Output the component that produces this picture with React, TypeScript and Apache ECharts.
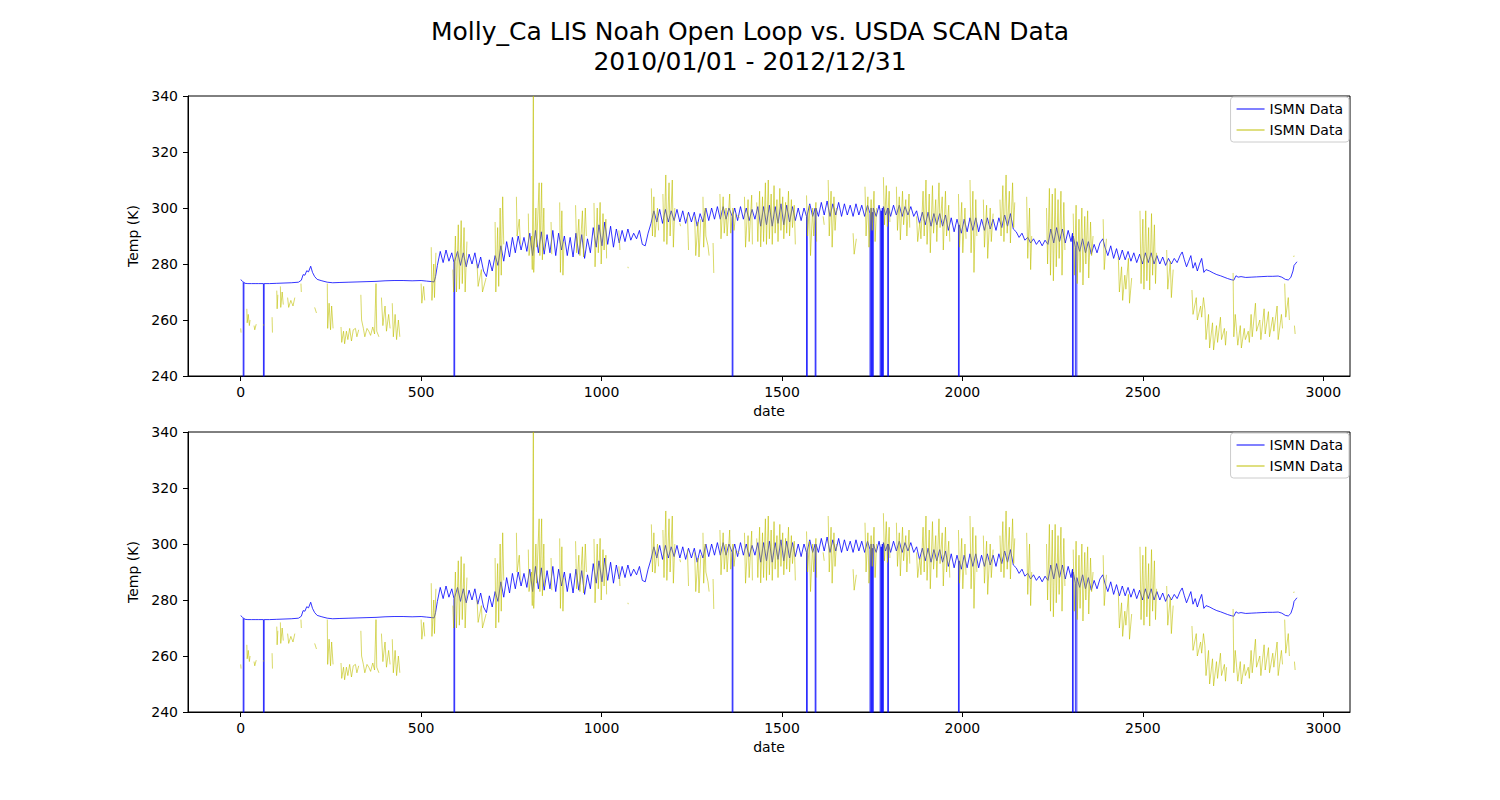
import { useEffect, useRef } from "react";
import * as echarts from "echarts";

// LIS Noah open loop soil temperature (K), [day index, value]; -9999 = missing value flag
const LIS_TEMPS: [number, number][] = [
    [0, 274.4], [4, 274.0], [7, 273.6], [8, -9999], [9, 273.4], [12, 273.1], [20, 273.0], [30, 273.0],
    [40, 273.0], [50, 273.0], [63, 273.0], [64, -9999], [65, 273.0], [80, 273.0], [100, 273.1], [120, 273.2],
    [140, 273.3], [160, 273.5], [168, 274.2], [173, 276.2], [178, 276.0], [183, 277.6], [188, 277.2], [194, 279.2],
    [199, 277.0], [205, 275.5], [212, 274.5], [225, 274.0], [240, 273.5], [255, 273.3], [275, 273.4], [300, 273.5],
    [325, 273.6], [350, 273.7], [375, 273.8], [400, 274.0], [425, 274.1], [450, 274.1], [475, 274.0], [500, 274.1],
    [515, 273.9], [530, 273.7], [536, 273.6], [540, 275.5],
    [545, 279.5], [553, 284.5], [561, 280.5], [569, 285], [577, 281], [585, 284], [591, 280.5], [592, -9999], [593, 281], [601, 284.5],
    [609, 279.5], [617, 284], [625, 279], [633, 283.5], [641, 280], [649, 284],
    [657, 278.5], [665, 282.5], [673, 277.5], [681, 275.5], [689, 281.5], [697, 277.5],
    [705, 283], [713, 279.5], [721, 286.5], [729, 281], [737, 288], [745, 282.5],
    [753, 289.5], [761, 284], [769, 290], [777, 285], [785, 289.5], [793, 284.5],
    [801, 291], [809, 283], [817, 292], [825, 284], [833, 291.5], [841, 283.5], [849, 290.5], [857, 284], [865, 292], [873, 283], [881, 291], [889, 285], [897, 290],
    [905, 283], [913, 289.5], [921, 282.5], [929, 291], [937, 283.5], [945, 290.5], [953, 282], [961, 289], [969, 284],
    [977, 293], [985, 286], [993, 294], [1001, 286.5], [1009, 295], [1017, 287], [1025, 293.5], [1033, 286], [1041, 292.5], [1049, 287.5],
    [1057, 292], [1065, 288], [1073, 292.5], [1081, 288.5], [1089, 291], [1097, 289], [1105, 292], [1113, 287], [1121, 286.5], [1129, 291],
    [1137, 294.5], [1145, 299], [1153, 295], [1161, 299.5], [1169, 294.5], [1177, 299.5], [1185, 295], [1193, 299], [1201, 295.5],
    [1209, 299.5], [1217, 295], [1225, 299], [1233, 294.5], [1241, 298.5], [1249, 295], [1257, 298.5], [1265, 293.5], [1273, 298],
    [1281, 295], [1289, 300], [1297, 295.5], [1305, 300], [1313, 296], [1321, 300.5], [1329, 296], [1337, 300.5], [1345, 296], [1353, 300],
    [1362, 297], [1363, -9999], [1364, 297.5], [1369, 300], [1377, 295.5], [1385, 300.5], [1393, 296], [1401, 300], [1409, 295.5], [1417, 299.5], [1425, 296],
    [1433, 300.5], [1441, 293.5], [1449, 300.5], [1457, 294], [1465, 301], [1473, 293.5], [1481, 300.5], [1489, 294.5], [1497, 301.5],
    [1505, 294], [1513, 301], [1521, 295], [1529, 300.5], [1537, 295.5], [1545, 300], [1553, 295.5], [1561, 300],
    [1568, 297], [1569, -9999], [1570, 297.5], [1577, 301.5], [1585, 297], [1592, 300], [1593, -9999], [1594, 300], [1601, 297],
    [1609, 302], [1617, 297.5], [1625, 302.5], [1633, 297], [1641, 301.5], [1649, 297.5], [1657, 302], [1665, 297], [1673, 301.5],
    [1681, 297.5], [1689, 301], [1697, 297], [1705, 301.5], [1713, 297.5], [1721, 301],
    [1729, 297], [1737, 301], [1744, 298], [1745, -9999], [1747, 300], [1748, -9999], [1750, 298.5], [1751, -9999], [1753, 300],
    [1761, 297], [1769, 301], [1772, 299], [1773, -9999], [1775, 299], [1776, -9999], [1778, 300], [1779, -9999], [1781, 300.5],
    [1787, 297.5], [1793, 300], [1794, -9999], [1795, 300], [1801, 297], [1809, 301], [1817, 297.5], [1825, 301], [1833, 297],
    [1841, 300.5], [1849, 297.5], [1857, 300.5], [1865, 297],
    [1873, 299], [1881, 294.5], [1889, 298.5], [1897, 294], [1905, 298.5], [1913, 293.5], [1921, 298], [1929, 294], [1937, 298], [1945, 293.5], [1953, 297.5],
    [1961, 292], [1969, 296.5], [1977, 291.5], [1985, 296], [1989, 294], [1990, -9999], [1991, 294], [1997, 291], [2005, 296], [2013, 291.5],
    [2021, 296.5], [2029, 292], [2037, 296.5], [2045, 291.5], [2053, 296], [2061, 292], [2069, 296.5], [2077, 292.5], [2085, 296], [2093, 292], [2101, 296.5],
    [2109, 293], [2117, 297.5], [2125, 293.5], [2133, 298], [2141, 292.5],
    [2149, 291.5], [2157, 289.5], [2165, 291], [2173, 288.5], [2181, 289.5], [2189, 287.5], [2197, 289], [2205, 287], [2213, 288.5], [2221, 286.5], [2229, 288.5],
    [2237, 287], [2245, 292.5], [2253, 287.5], [2261, 293], [2269, 288], [2277, 292.5], [2285, 287.5], [2293, 292], [2301, 288],
    [2305, 291], [2306, -9999], [2307, 290], [2313, 286], [2315, -9999], [2317, 288], [2325, 284.5], [2333, 289], [2341, 284], [2349, 288],
    [2357, 283.5], [2365, 287], [2373, 284], [2381, 287.5], [2389, 289], [2395, 286],
    [2403, 283], [2411, 286.5], [2419, 282], [2427, 285.5], [2435, 281.5], [2443, 285], [2451, 281.5], [2459, 284.5], [2467, 281], [2475, 284], [2483, 280.5],
    [2491, 283.5], [2499, 280], [2507, 284], [2515, 280.5], [2523, 284], [2531, 280],
    [2539, 283], [2547, 280], [2555, 282.5], [2563, 279.5], [2571, 282], [2579, 280], [2587, 282], [2595, 280.5],
    [2603, 283], [2609, 284.3], [2615, 281.5],
    [2621, 279], [2627, 281], [2633, 283], [2639, 278.5], [2645, 280.5], [2651, 277.5], [2657, 280], [2663, 282], [2669, 277],
    [2675, 278], [2685, 277.5], [2695, 276.8], [2705, 276.2], [2715, 275.8], [2725, 275.3], [2735, 274.8], [2745, 274.4], [2752, 274.2],
    [2758, 275.8], [2764, 275.3], [2772, 275.5], [2785, 275.2], [2800, 275.3], [2815, 275.4], [2830, 275.5], [2845, 275.6], [2860, 275.6],
    [2875, 275.7], [2885, 275.3], [2895, 274.5], [2903, 274.3], [2910, 275.2], [2916, 277.5], [2919, 279.5], [2924, 280.3], [2927, 280.8],
];

// USDA SCAN station record (K), [day index, value]; null = gap in the record
const SCAN_TEMPS: [number, number | null][] = [
    [0, 257], [1, 255.5], [2, null],
    [17, 264], [18, 259], [21, 262], [24, 258], [26, 260], [27, null],
    [37, 258], [39, 256.5], [43, 258.5], [44, null],
    [63, 258], [64, 258.5], [65, null],
    [87, 261], [88, 255.5], [89, null],
    [100, 270.5], [101, 264], [103, 269], [104, null],
    [110, 272], [111, 264.5], [115, 270], [118, 265.5], [119, null],
    [130, 268], [133, 264.5], [139, 267], [145, 265], [150, 268], [151, null],
    [167, 273], [168, 270], [169, null],
    [205, 264.5], [210, 262.5], [211, null],
    [240, 273], [241, 257], [245, 266], [249, 256.5], [252, 265], [256, 257], [257, null],
    [278, 257.5], [280, 252], [285, 256], [288, 251.5], [293, 256], [297, 253], [302, 257], [307, 252.5], [312, 256.5],
    [318, 257], [322, 254], [327, 256.5], [328, null],
    [333, 269], [335, 260], [340, 257], [344, 254], [350, 257], [355, 256], [360, 254.5], [366, 257.5], [371, 255],
    [375, 273], [377, 256], [383, 254], [384, null],
    [390, 268], [394, 258], [400, 265], [404, 256], [410, 262], [414, 257], [415, null],
    [420, 266], [423, 254], [428, 262], [432, 253], [437, 260], [441, 254], [442, null],
    [500, 273], [502, 266], [507, 272], [510, 267], [511, null],
    [528, 286], [530, 267], [535, 280], [537, 268], [541, 284], [542, null],
    [588, 278], [590, 270], [595, 290], [598, 270], [603, 294], [606, 271], [611, 295.5], [614, 273], [619, 293], [622, 270], [627, 288], [628, null],
    [655, 280], [658, 272], [667, 278], [670, 270], [680, 275], [681, null],
    [705, 295], [707, 270], [712, 293], [715, 272], [719, 300], [722, 276], [726, 304], [729, 287], [730, null],
    [764, 304], [766, 290], [772, 296], [775, 287], [776, null],
    [797, 298], [799, 283], [806, 290], [808, 278], [811, 340], [812, 277], [818, 300], [820, 286],
    [827, 309], [829, 283], [834, 309], [836, 281.5], [840, 300], [842, 285], [843, null],
    [860, 295], [862, 283.5], [863, null],
    [884, 302], [886, 277], [890, 299], [893, 276], [896, 288], [897, null],
    [928, 301], [931, 284], [937, 296], [940, 283], [947, 299], [950, 282.5], [955, 300], [958, 290], [959, null],
    [979, 301.8], [982, 279], [988, 300], [991, 284], [996, 302], [999, 280], [1004, 298], [1007, 285], [1012, 296], [1014, 282], [1015, null],
    [1048, 292], [1051, 285], [1052, null],
    [1073, 279], [1074, 278.5], [1075, null],
    [1138, 307], [1141, 290], [1145, 304], [1148, 289.6], [1155, 300], [1158, 292], [1159, null],
    [1170, 305], [1173, 288], [1178, 311.8], [1181, 287], [1187, 309], [1190, 290], [1196, 310], [1199, 286], [1203, 300], [1204, null],
    [1217, 294.5], [1219, 293.5], [1220, null],
    [1238, 298], [1241, 285], [1242, null],
    [1258, 297], [1261, 283], [1267, 295], [1270, 282.5], [1275, 296], [1276, null],
    [1281, 304], [1283, 286], [1287, 300], [1289, 290], [1295, 286.5], [1298, 283], [1299, null],
    [1309, 287.5], [1311, 276.8], [1312, null],
    [1328, 305], [1331, 289], [1337, 304], [1340, 291], [1345, 300], [1348, 290], [1355, 305], [1358, 291], [1364, 300], [1367, 292], [1372, 298], [1373, null],
    [1378, 297.5], [1381, 296.5], [1382, null],
    [1396, 304], [1399, 286], [1406, 303], [1409, 288], [1416, 304.6], [1418, 287], [1419, null],
    [1430, 302], [1433, 288], [1438, 306], [1441, 286.1], [1446, 304], [1449, 288], [1454, 309], [1457, 287], [1462, 310], [1465, 289],
    [1470, 305], [1473, 287], [1478, 308], [1481, 291], [1486, 303], [1489, 288], [1494, 307], [1497, 292], [1502, 304], [1505, 289],
    [1510, 302], [1513, 291], [1518, 306], [1521, 290], [1526, 303], [1529, 293], [1534, 301], [1537, 287], [1538, null],
    [1568, 304.5], [1571, 290], [1576, 301], [1579, 283], [1585, 300], [1588, 290], [1594, 302], [1596, 288], [1597, null],
    [1614, 297], [1617, 294], [1618, null],
    [1628, 310], [1631, 290], [1636, 306], [1639, 286], [1644, 304], [1647, 292], [1651, 300], [1652, null],
    [1697, 291], [1700, 283.5], [1706, 289], [1707, null],
    [1730, 307.6], [1733, 290], [1738, 304], [1741, 286], [1747, 303], [1750, 292], [1755, 306], [1758, 288], [1762, 300], [1763, null],
    [1781, 311], [1784, 294], [1789, 308], [1792, 293.4], [1797, 306], [1799, 295], [1800, null],
    [1817, 307.6], [1820, 292], [1825, 304], [1828, 288.6], [1834, 306], [1837, 294], [1843, 303], [1846, 290], [1852, 305], [1854, 293], [1855, null],
    [1873, 297], [1876, 288], [1882, 295], [1885, 289],
    [1891, 306], [1894, 290], [1899, 310], [1902, 287], [1908, 305], [1911, 284], [1917, 308], [1920, 291], [1926, 303], [1929, 288],
    [1935, 309], [1938, 293], [1944, 304], [1947, 285], [1953, 306], [1956, 290], [1962, 301], [1965, 288], [1966, null],
    [1989, 305], [1992, 286], [1998, 302], [2001, 284], [2007, 300], [2010, 289], [2011, null],
    [2021, 310], [2024, 284], [2029, 306], [2032, 277], [2037, 303], [2040, 290], [2041, null],
    [2058, 303], [2061, 286], [2067, 301], [2070, 282], [2077, 300], [2080, 288], [2085, 298], [2086, null],
    [2104, 303], [2107, 290], [2112, 308], [2115, 288], [2121, 311.8], [2124, 291], [2130, 306], [2133, 287.5], [2139, 309], [2142, 293], [2145, 302], [2146, null],
    [2178, 304], [2181, 282], [2186, 300], [2189, 278], [2192, 290], [2193, null],
    [2233, 300], [2236, 280], [2241, 307], [2244, 276], [2249, 305], [2252, 274], [2257, 307], [2260, 279], [2265, 303], [2268, 282],
    [2273, 306], [2276, 276], [2281, 302], [2284, 285], [2285, null],
    [2307, 298], [2310, 276], [2315, 301], [2318, 273], [2323, 296], [2326, 277], [2331, 300], [2334, 272.5], [2339, 297], [2342, 280],
    [2347, 299], [2350, 275], [2355, 295], [2358, 283], [2362, 290], [2363, null],
    [2390, 296], [2393, 278], [2399, 289], [2400, null],
    [2432, 282.5], [2435, 270], [2441, 279], [2444, 267], [2450, 276], [2453, 271], [2460, 282], [2463, 266], [2469, 275], [2470, null],
    [2492, 299], [2495, 273], [2500, 296], [2503, 271], [2508, 299], [2511, 274], [2516, 293], [2519, 270.7], [2524, 298], [2527, 276],
    [2532, 294], [2535, 273], [2538, 284], [2539, null],
    [2566, 285], [2569, 271], [2576, 281], [2579, 268], [2584, 278], [2585, null],
    [2636, 270.7], [2639, 262], [2648, 268], [2651, 260], [2660, 265], [2663, 261], [2668, 268],
    [2672, 263.6], [2675, 253], [2682, 262], [2685, 250], [2693, 259], [2696, 249.3], [2704, 258], [2707, 252], [2715, 261], [2718, 253],
    [2726, 257], [2729, 251], [2732, 256], [2733, null],
    [2750, 276.8], [2752, 254], [2756, 262],
    [2760, 256], [2763, 251], [2770, 258], [2773, 250], [2781, 257], [2784, 253], [2792, 256], [2795, 252],
    [2800, 262], [2803, 254], [2812, 266], [2815, 256], [2824, 260], [2827, 253], [2836, 264], [2839, 255], [2848, 263], [2851, 254],
    [2860, 261], [2863, 256], [2872, 265], [2875, 253], [2884, 262], [2887, 257], [2888, null],
    [2893, 273], [2896, 261], [2903, 268], [2906, 260], [2907, null],
    [2918, 282.5], [2919, 283], [2919.5, null],
    [2920, 258], [2922, 255],
];

const X_TICKS = [0, 500, 1000, 1500, 2000, 2500, 3000];
const X_MIN = -146;
const X_MAX = 3074;
const Y_MIN = 240;
const Y_MAX = 340;
const Y_STEP = 20;

const FONT = "DejaVu Sans";
const LIS_COLOR = "#0000ff";
const SCAN_COLOR = "#bfbf00";

export default function App() {
    const chartRef = useRef<HTMLDivElement | null>(null);

    useEffect(() => {
        if (!chartRef.current) return;
        document.body.style.margin = "0";

        const chart = echarts.init(chartRef.current, undefined, { renderer: "svg" });

        const lisData = LIS_TEMPS.map(([d, t]) => [d, t]);
        const scanData = SCAN_TEMPS.map(([d, t]) => [d, t === null ? "-" : t]);

        const grids = [96, 432].map((top) => ({
            left: 188,
            top,
            width: 1162,
            height: 280,
            show: true,
            borderColor: "#000",
            borderWidth: 1,
            backgroundColor: "transparent",
        }));

        const xAxes = [0, 1].map((i) => ({
            type: "value" as const,
            gridIndex: i,
            min: X_MIN,
            max: X_MAX,
            name: "date",
            nameLocation: "middle" as const,
            nameGap: 28,
            nameTextStyle: { color: "#000", fontSize: 14, fontFamily: FONT },
            axisLine: { show: true, onZero: false, lineStyle: { color: "#000", width: 1 } },
            axisTick: { show: true, length: 5, lineStyle: { color: "#000" }, customValues: X_TICKS },
            axisLabel: {
                color: "#000",
                fontSize: 14,
                fontFamily: FONT,
                margin: 9,
                customValues: X_TICKS,
                formatter: (v: number) => String(v),
            },
            splitLine: { show: false },
        }));

        const yAxes = [0, 1].map((i) => ({
            type: "value" as const,
            gridIndex: i,
            min: Y_MIN,
            max: Y_MAX,
            interval: Y_STEP,
            name: "Temp (K)",
            nameLocation: "middle" as const,
            nameGap: 40,
            nameTextStyle: { color: "#000", fontSize: 14, fontFamily: FONT },
            axisLine: { show: true, onZero: false, lineStyle: { color: "#000", width: 1 } },
            axisTick: { show: true, length: 5, lineStyle: { color: "#000" } },
            axisLabel: { color: "#000", fontSize: 14, fontFamily: FONT, margin: 10 },
            splitLine: { show: false },
        }));

        const series: any[] = [];
        [0, 1].forEach((i) => {
            series.push({
                name: "lis",
                type: "line",
                xAxisIndex: i,
                yAxisIndex: i,
                data: lisData,
                showSymbol: false,
                symbol: "none",
                clip: true,
                color: LIS_COLOR,
                itemStyle: { color: LIS_COLOR },
                lineStyle: { color: LIS_COLOR, width: 0.8 },
            });
            series.push({
                name: "scan",
                type: "line",
                xAxisIndex: i,
                yAxisIndex: i,
                data: scanData,
                showSymbol: false,
                symbol: "none",
                clip: true,
                connectNulls: false,
                color: SCAN_COLOR,
                itemStyle: { color: SCAN_COLOR },
                lineStyle: { color: SCAN_COLOR, width: 0.8, opacity: 0.75 },
            });
        });

        const legends = [97, 433].map((top) => ({
            right: 151,
            top,
            orient: "vertical" as const,
            data: ["lis", "scan"],
            formatter: () => "ISMN Data",
            icon: "rect",
            itemWidth: 28,
            itemHeight: 1,
            itemGap: 7,
            padding: [5, 6, 5, 6],
            backgroundColor: "rgba(255,255,255,0.8)",
            borderColor: "#cccccc",
            borderWidth: 1,
            borderRadius: 3,
            selectedMode: false,
            textStyle: { color: "#000", fontSize: 14, fontFamily: FONT },
        }));

        chart.setOption({
            animation: false,
            backgroundColor: "#fff",
            title: {
                text: "Molly_Ca LIS Noah Open Loop vs. USDA SCAN Data\n2010/01/01 - 2012/12/31",
                left: "center",
                top: 12,
                textStyle: { color: "#000", fontSize: 25, fontWeight: "normal", fontFamily: FONT, lineHeight: 29.5 },
            },
            legend: legends,
            grid: grids,
            xAxis: xAxes,
            yAxis: yAxes,
            series,
        });

        return () => {
            chart.dispose();
        };
    }, []);

    return <div ref={chartRef} style={{ width: 1500, height: 800 }} />;
}
